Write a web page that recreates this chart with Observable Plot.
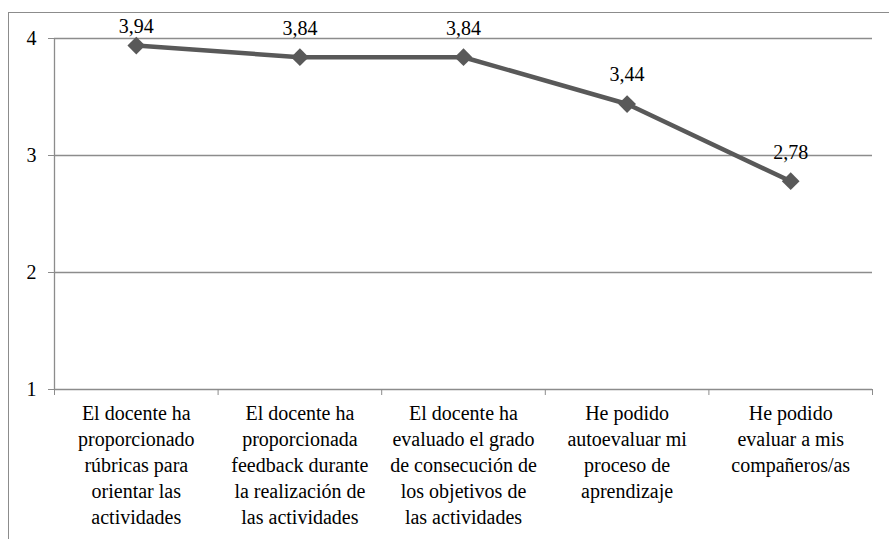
<!DOCTYPE html>
<html>
<head>
<meta charset="utf-8">
<script src="https://cdn.jsdelivr.net/npm/d3@7"></script>
<script src="https://cdn.jsdelivr.net/npm/@observablehq/plot@0.6"></script>
<style>
  html, body { margin: 0; padding: 0; background: #fff; font-family: "Liberation Serif", serif; }
  #wrap { position: relative; width: 889px; height: 539px; overflow: hidden; }
  #border { position: absolute; left: 8px; top: 12px; width: 890px; height: 600px; border: 1px solid #8c8c8c; box-sizing: border-box; pointer-events: none; }
  #chart { position: absolute; left: 0; top: 0; }
  svg text, svg tspan { font-family: "Liberation Serif", serif !important; }
</style>
</head>
<body>
<div id="wrap"><div id="border"></div><div id="chart"></div></div>
<script>
const categories = [
  "El docente ha\nproporcionado\nrúbricas para\norientar las\nactividades",
  "El docente ha\nproporcionada\nfeedback durante\nla realización de\nlas actividades",
  "El docente ha\nevaluado el grado\nde consecución de\nlos objetivos de\nlas actividades",
  "He podido\nautoevaluar mi\nproceso de\naprendizaje",
  "He podido\nevaluar a mis\ncompañeros/as"
];
const values = [3.94, 3.84, 3.84, 3.44, 2.78];
const valueLabels = ["3,94", "3,84", "3,84", "3,44", "2,78"];
const yTicks = [1, 2, 3, 4];

const data = categories.map((c, i) => ({pos: i + 0.5, cat: c, value: values[i], label: valueLabels[i]}));
const lineColor = "#595959";
const gridColor = "#8c8c8c";
const FONT = "Liberation Serif, serif";

const chart = Plot.plot({
  width: 889,
  height: 539,
  marginLeft: 54,
  marginRight: 17,
  marginTop: 38,
  marginBottom: 150,
  style: {fontFamily: FONT, fontSize: "20px"},
  x: {type: "linear", domain: [0, categories.length], label: null},
  y: {domain: [1, 4], label: null},
  marks: [
    Plot.ruleY([2, 3, 4], {stroke: gridColor, strokeWidth: 1.3}),
    Plot.ruleY([1], {stroke: gridColor, strokeWidth: 1.3}),
    Plot.ruleX([0], {y1: 1, y2: 4, stroke: gridColor, strokeWidth: 1.3}),
    Plot.axisY({ticks: yTicks, tickSize: 6, tickPadding: 12, stroke: gridColor, tickFormat: d => String(d), label: null, fontFamily: FONT}),
    Plot.axisX({ticks: d3.range(categories.length + 1), tickSize: 6, tickFormat: () => "", stroke: gridColor, label: null}),
    Plot.axisX({ticks: data.map(d => d.pos), tickSize: 0, tickPadding: 12, tickFormat: (d) => categories[Math.round(d - 0.5)], lineHeight: 1.3, textAnchor: "middle", label: null, fontFamily: FONT}),
    Plot.line(data, {x: "pos", y: "value", stroke: lineColor, strokeWidth: 4.5}),
    Plot.dot(data, {x: "pos", y: "value", symbol: "diamond2", r: 8, fill: lineColor, stroke: "none"}),
    Plot.text(data.filter((d, i) => i === 0), {x: "pos", y: "value", text: "label", dy: -19, fontFamily: FONT}),
    Plot.text(data.filter((d, i) => i !== 0), {x: "pos", y: "value", text: "label", dy: -29, fontFamily: FONT})
  ]
});
chart.setAttribute("font-family", FONT);
chart.querySelectorAll("text, tspan").forEach(t => { t.setAttribute("font-family", FONT); t.style.fontFamily = FONT; });
document.getElementById("chart").appendChild(chart);
</script>
</body>
</html>
